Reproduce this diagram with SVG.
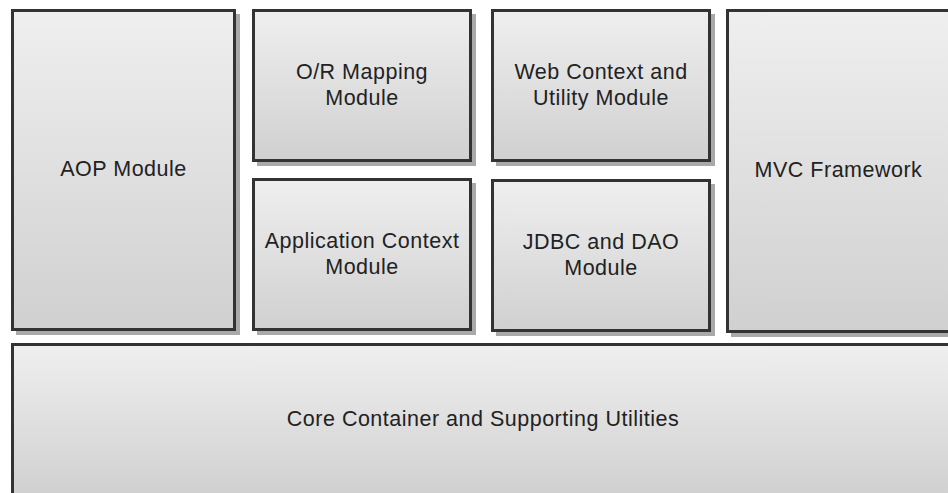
<svg xmlns="http://www.w3.org/2000/svg" width="948" height="493" viewBox="0 0 948 493">
<defs>
<linearGradient id="g" x1="0" y1="0" x2="0" y2="1">
<stop offset="0" stop-color="#efefef"/>
<stop offset="1" stop-color="#d0d0d0"/>
</linearGradient>
</defs>
<style>
.sh{fill:#a9a9a9}
.bx{fill:url(#g);stroke:#333;stroke-width:3}
text{font-family:"Liberation Sans",Arial,sans-serif;font-size:21.5px;letter-spacing:0.5px;fill:#222;text-anchor:middle}
</style>
<rect width="948" height="493" fill="#fff"/>
<g id="aop">
<rect class="sh" x="16" y="14" width="224" height="321"/>
<rect class="bx" x="12.5" y="10.5" width="222" height="319"/>
<text x="123.5" y="176">AOP Module</text>
</g>
<g id="orm">
<rect class="sh" x="257" y="14" width="219" height="152"/>
<rect class="bx" x="253.5" y="10.5" width="217" height="150"/>
<text x="362" y="79">O/R Mapping</text>
<text x="362" y="105">Module</text>
</g>
<g id="appctx">
<rect class="sh" x="257" y="183" width="219" height="152"/>
<rect class="bx" x="253.5" y="179.5" width="217" height="150"/>
<text x="362" y="248">Application Context</text>
<text x="362" y="274">Module</text>
</g>
<g id="webctx">
<rect class="sh" x="496" y="14" width="219" height="152"/>
<rect class="bx" x="492.5" y="10.5" width="217" height="150"/>
<text x="601" y="79">Web Context and</text>
<text x="601" y="105">Utility Module</text>
</g>
<g id="jdbc">
<rect class="sh" x="496" y="184" width="219" height="152"/>
<rect class="bx" x="492.5" y="180.5" width="217" height="150"/>
<text x="601" y="249">JDBC and DAO</text>
<text x="601" y="275">Module</text>
</g>
<g id="mvc">
<rect class="sh" x="731" y="14" width="224" height="323"/>
<rect class="bx" x="727.5" y="10.5" width="222" height="321"/>
<text x="838.5" y="177">MVC Framework</text>
</g>
<g id="core">
<rect class="bx" x="12.5" y="344.5" width="950" height="152"/>
<text x="483" y="426">Core Container and Supporting Utilities</text>
</g>
<g id="connectors"/>
</svg>
